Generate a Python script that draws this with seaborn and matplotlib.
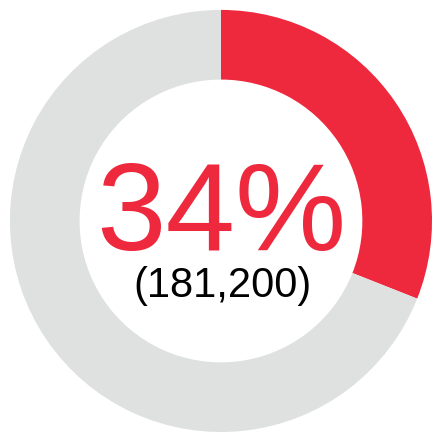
import matplotlib
matplotlib.use("Agg")
import matplotlib.pyplot as plt
import seaborn as sns

# data
labels = ["Highlighted", "Rest"]
shares = [31, 69]          # arc as drawn in the picture
pct_label = "34%"
count_label = "(181,200)"
colors = ["#EE293D", "#DFE0E0"]

sns.set_theme(style="white")
plt.rcParams['font.family'] = ['Liberation Sans Narrow', 'Liberation Sans', 'DejaVu Sans']

fig = plt.figure(figsize=(4.32, 4.32), dpi=100)
ax = fig.add_axes([0, 0, 1, 1])

ax.pie(shares, colors=colors, startangle=90, counterclock=False,
       wedgeprops=dict(width=0.33, linewidth=0))
ax.set_aspect("equal")
ax.set_xlim(-1.047, 1.0)
ax.set_ylim(-1.0, 1.047)
ax.axis("off")

ax.text(0.0, -0.137, pct_label, color=colors[0], fontsize=90,
        ha="center", va="baseline")
ax.text(0.005, -0.36, count_label, color="black", fontsize=30,
        ha="center", va="baseline")

fig.savefig("out.png", dpi=100, facecolor="white")
